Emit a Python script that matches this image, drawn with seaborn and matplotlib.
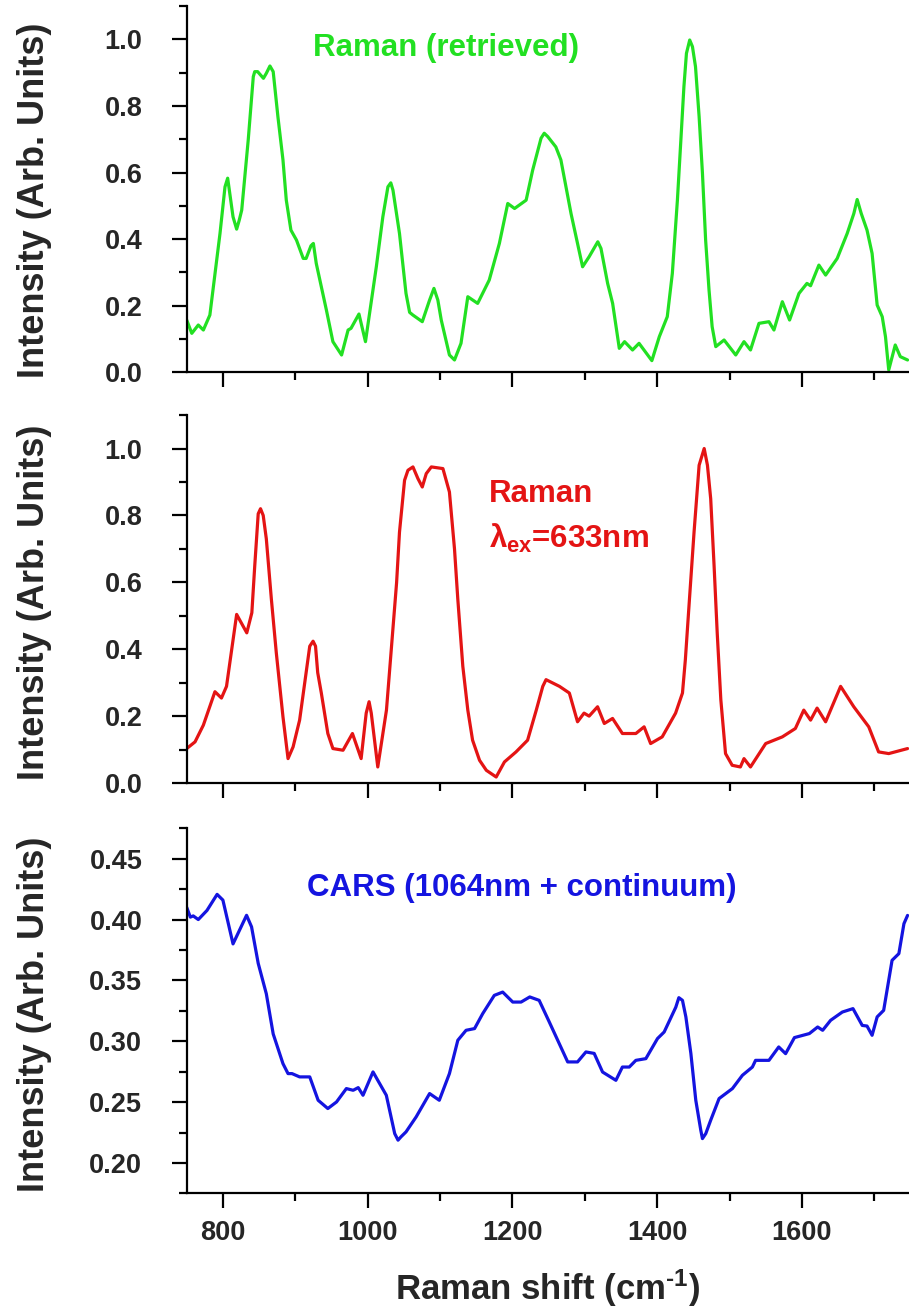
import numpy as np
import matplotlib
matplotlib.use("Agg")
import matplotlib.pyplot as plt
import seaborn as sns
from matplotlib.ticker import MultipleLocator

# Raman (retrieved) - green trace
green_x = [750, 757, 766, 773, 782, 796, 802.9, 806.6, 814, 819, 822.6, 826, 835, 842, 844, 848, 856,
           860, 865, 869.5, 876, 883, 887.6, 894, 901.7, 911, 915, 921.7, 925, 929, 936, 943, 952,
           964, 973, 977, 988, 997, 1012, 1021, 1028, 1032, 1035, 1044, 1053, 1058, 1062.5, 1075.5,
           1085.6, 1091.6, 1097, 1101.7, 1106, 1113, 1120, 1129, 1138.4, 1152, 1168, 1182, 1193.6,
           1203, 1219, 1228, 1239.6, 1244, 1248.8, 1260, 1267, 1281, 1297, 1306, 1318, 1322.4,
           1331.6, 1338.5, 1347.7, 1355, 1366, 1375, 1392.7, 1403, 1414, 1421, 1428, 1432.8, 1437,
           1440.5, 1445, 1448.8, 1453, 1458, 1462.6, 1467, 1471.7, 1476, 1481, 1492.5, 1508.6, 1520,
           1529, 1540.7, 1554.5, 1561.4, 1573, 1583, 1596, 1607, 1612, 1623.5, 1632.8, 1648.8,
           1662.6, 1671.8, 1676.4, 1682, 1690, 1697, 1704, 1711, 1715.5, 1720, 1729, 1736, 1746]
green_y = [0.157, 0.117, 0.142, 0.127, 0.172, 0.417, 0.557, 0.583, 0.467, 0.43, 0.457, 0.487, 0.698,
           0.888, 0.903, 0.903, 0.883, 0.898, 0.92, 0.903, 0.768, 0.638, 0.517, 0.427, 0.397, 0.342,
           0.342, 0.38, 0.387, 0.327, 0.257, 0.187, 0.092, 0.052, 0.127, 0.132, 0.175, 0.092, 0.317,
           0.467, 0.557, 0.569, 0.547, 0.417, 0.237, 0.18, 0.172, 0.152, 0.217, 0.252, 0.217, 0.157,
           0.117, 0.052, 0.037, 0.087, 0.227, 0.207, 0.277, 0.387, 0.507, 0.492, 0.517, 0.607,
           0.703, 0.718, 0.708, 0.677, 0.638, 0.477, 0.317, 0.347, 0.392, 0.372, 0.267, 0.207,
           0.072, 0.092, 0.067, 0.087, 0.035, 0.107, 0.167, 0.297, 0.517, 0.698, 0.858, 0.958,
           0.998, 0.978, 0.918, 0.768, 0.598, 0.397, 0.247, 0.137, 0.077, 0.097, 0.052, 0.092,
           0.067, 0.147, 0.152, 0.127, 0.212, 0.157, 0.237, 0.267, 0.26, 0.322, 0.292, 0.342,
           0.417, 0.477, 0.519, 0.477, 0.427, 0.357, 0.202, 0.167, 0.107, 0.007, 0.082, 0.047, 0.037]

# Raman 633 nm - red trace
red_x = [750, 761.5, 773, 789, 798, 805, 819, 833, 840, 844, 848.8, 852, 855.7, 860, 867, 873.8, 883,
         890, 897, 906, 920, 924.6, 928, 931, 936, 945, 952, 966, 979, 991, 998, 1002, 1005, 1014,
         1026, 1040, 1044, 1051, 1055.7, 1062.6, 1069.5, 1075.5, 1081, 1088, 1104, 1113, 1120,
         1124.6, 1131.5, 1138.4, 1145, 1154.6, 1164, 1177.6, 1189, 1205, 1221, 1233, 1242, 1246.5,
         1265, 1278.7, 1290, 1299, 1306, 1317.7, 1327, 1338.4, 1352, 1370.6, 1382, 1391, 1407,
         1425.5, 1435, 1439, 1444, 1451, 1458, 1465, 1469.5, 1474, 1478.7, 1483, 1488, 1494.5,
         1503.7, 1515, 1520, 1529, 1550, 1573, 1591, 1602.6, 1612, 1621, 1632.8, 1653.5, 1671.7,
         1692.4, 1706, 1720, 1746]
red_y = [0.103, 0.123, 0.173, 0.273, 0.254, 0.289, 0.504, 0.449, 0.509, 0.649, 0.805, 0.82, 0.80,
         0.73, 0.549, 0.389, 0.198, 0.073, 0.108, 0.188, 0.409, 0.424, 0.409, 0.33, 0.269, 0.148,
         0.103, 0.098, 0.148, 0.073, 0.209, 0.243, 0.209, 0.048, 0.218, 0.599, 0.75, 0.905, 0.935,
         0.945, 0.91, 0.885, 0.925, 0.945, 0.94, 0.87, 0.70, 0.549, 0.349, 0.218, 0.128, 0.068,
         0.038, 0.018, 0.063, 0.093, 0.128, 0.218, 0.289, 0.309, 0.289, 0.269, 0.183, 0.209, 0.2,
         0.228, 0.178, 0.193, 0.148, 0.148, 0.168, 0.118, 0.138, 0.209, 0.269, 0.369, 0.529, 0.75,
         0.95, 1.0, 0.95, 0.85, 0.649, 0.449, 0.249, 0.088, 0.053, 0.048, 0.073, 0.048, 0.118,
         0.138, 0.163, 0.218, 0.188, 0.224, 0.183, 0.289, 0.228, 0.168, 0.093, 0.088, 0.103]

# CARS - blue trace
blue_x = [750, 755, 759, 766, 778, 792, 800, 814, 832.7, 839.6, 848.8, 860, 869.5, 883, 890, 895.5,
          906, 920, 931.6, 945, 957, 970.6, 980, 987, 993.6, 1007.4, 1025.8, 1037.4, 1042, 1046,
          1053, 1067, 1085.6, 1099, 1113, 1124.6, 1136, 1147.7, 1159, 1175, 1186.6, 1200.5, 1212,
          1224, 1237, 1251, 1276.4, 1290, 1301.6, 1313, 1324.6, 1343, 1352, 1361.5, 1370.6,
          1384.4, 1400.5, 1409.7, 1425.8, 1430, 1435, 1439.7, 1446.6, 1453.4, 1460.3, 1462.6,
          1467.2, 1474, 1485.6, 1504, 1517.8, 1531.6, 1536, 1554.5, 1568, 1577.5, 1589.7, 1610.3,
          1621.8, 1628.7, 1639.7, 1655.9, 1670.6, 1683.4, 1690, 1697, 1704, 1713, 1724.6, 1734,
          1741, 1746]
blue_y = [0.410, 0.402, 0.403, 0.400, 0.4075, 0.4207, 0.416, 0.380, 0.4035, 0.394, 0.364, 0.339,
          0.306, 0.2816, 0.2734, 0.2734, 0.2707, 0.2707, 0.2515, 0.2447, 0.2501, 0.2611, 0.2597,
          0.2619, 0.2556, 0.2748, 0.2556, 0.2241, 0.2187, 0.2214, 0.2255, 0.2378, 0.257, 0.2515,
          0.2734, 0.3008, 0.309, 0.3104, 0.3227, 0.3377, 0.3404, 0.3322, 0.3322, 0.3364, 0.3336,
          0.3158, 0.283, 0.283, 0.2912, 0.29, 0.2747, 0.2679, 0.2788, 0.2788, 0.2843, 0.2857,
          0.3022, 0.3076, 0.328, 0.3358, 0.3336, 0.32, 0.29, 0.2515, 0.2269, 0.22, 0.2241, 0.2351,
          0.2529, 0.2611, 0.272, 0.2788, 0.2843, 0.2843, 0.2953, 0.2898, 0.303, 0.3063, 0.3117,
          0.309, 0.3172, 0.324, 0.3268, 0.313, 0.3125, 0.3049, 0.32, 0.3254, 0.3665, 0.372,
          0.3966, 0.4034]

sns.set_style("ticks")
plt.rcParams['font.family'] = ['Liberation Sans', 'DejaVu Sans']
plt.rcParams['font.weight'] = 'bold'
plt.rcParams['mathtext.fontset'] = 'custom'
plt.rcParams['mathtext.rm'] = 'Liberation Sans:bold'
plt.rcParams['mathtext.it'] = 'Liberation Sans:bold'
plt.rcParams['mathtext.bf'] = 'Liberation Sans:bold'

GREEN = '#22e022'
RED = '#e41414'
BLUE = '#1414e0'

fig = plt.figure(figsize=(9.09, 13.16), dpi=100)
# axes boxes in figure fractions: left, bottom, width, height
boxes = [[0.2054, 0.7171, 0.7946, 0.2783],
         [0.2054, 0.4050, 0.7946, 0.2796],
         [0.2054, 0.0932, 0.7946, 0.2774]]
axes = [fig.add_axes(b) for b in boxes]

line_kw = dict(lw=2.3, solid_joinstyle='round', solid_capstyle='round')
sns.lineplot(x=green_x, y=green_y, ax=axes[0], color=GREEN, **line_kw)
sns.lineplot(x=red_x, y=red_y, ax=axes[1], color=RED, **line_kw)
sns.lineplot(x=blue_x, y=blue_y, ax=axes[2], color=BLUE, **line_kw)

axes[0].set_ylim(0, 1.1)
axes[1].set_ylim(0, 1.1)
axes[2].set_ylim(0.175, 0.475)

for i, ax in enumerate(axes):
    ax.set_xlim(750, 1748)
    ax.xaxis.set_major_locator(MultipleLocator(200))
    ax.xaxis.set_minor_locator(MultipleLocator(100))
    if i < 2:
        ax.yaxis.set_major_locator(MultipleLocator(0.2))
        ax.yaxis.set_minor_locator(MultipleLocator(0.1))
        ax.yaxis.set_major_formatter(plt.FormatStrFormatter('%.1f'))
        ax.tick_params(axis='x', labelbottom=False)
    else:
        ax.yaxis.set_major_locator(MultipleLocator(0.05))
        ax.yaxis.set_minor_locator(MultipleLocator(0.025))
        ax.yaxis.set_major_formatter(plt.FormatStrFormatter('%.2f'))
    sns.despine(ax=ax)
    for s in ['left', 'bottom']:
        ax.spines[s].set_linewidth(1.6)
        ax.spines[s].set_color('black')
    ax.tick_params(which='major', direction='out', length=11, width=1.6, color='black',
                   labelsize=19.5)
    ax.tick_params(which='minor', direction='out', length=5.5, width=1.6, color='black')
    ax.tick_params(axis='y', which='major', pad=21)
    ax.tick_params(axis='x', which='major', pad=8)
    ax.set_ylabel('Intensity (Arb. Units)', fontsize=26, fontweight='bold')
    ax.yaxis.set_label_coords(-0.187, 0.47 if i == 0 else 0.49)

axes[2].set_xlabel(r'Raman shift (cm$^{\text{-1}}$)', fontsize=25, fontweight='bold',
                   labelpad=16)

axes[0].text(924, 0.974, 'Raman (retrieved)', color=GREEN, fontsize=22.5, fontweight='bold',
             ha='left', va='center')
axes[1].text(1168, 0.865, 'Raman', color=RED, fontsize=22.5, fontweight='bold',
             ha='left', va='center')
axes[1].text(1168, 0.73, r'$\lambda_{ex}$=633nm', color=RED, fontsize=22.5, fontweight='bold',
             ha='left', va='center')
axes[2].text(916, 0.4256, 'CARS (1064nm + continuum)', color=BLUE, fontsize=22.5,
             fontweight='bold', ha='left', va='center')

fig.savefig('out.png', dpi=100)
